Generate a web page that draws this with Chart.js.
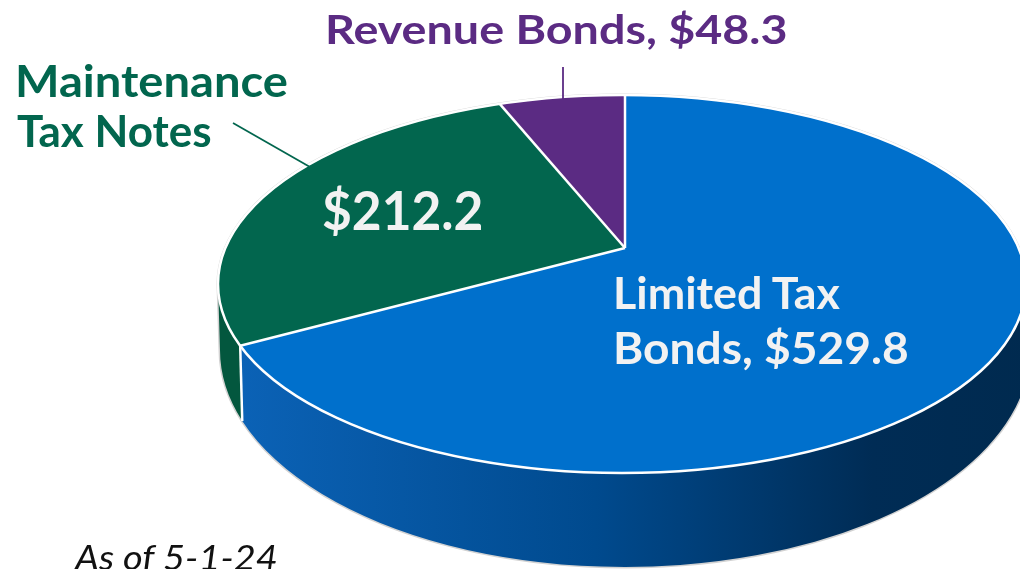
<!DOCTYPE html>
<html>
<head>
<meta charset="utf-8">
<title>Debt outstanding</title>
<script src="https://cdn.jsdelivr.net/npm/chart.js@4.4.1/dist/chart.umd.min.js"></script>
<style>
  html, body { margin: 0; padding: 0; background: #fff; }
  #wrap { position: relative; width: 1020px; height: 569px; overflow: hidden; }
  #chart { position: absolute; left: 0; top: 0; }
  .lbl {
    position: absolute;
    white-space: nowrap;
    font-family: Lato, "DejaVu Sans", sans-serif;
    transform-origin: 0 0;
  }
</style>
</head>
<body>
<div id="wrap">
  <canvas id="chart" width="1020" height="569"></canvas>
</div>
<script>
// Amounts in $ millions, as of 5-1-24
const categories = ["Limited Tax Bonds", "Maintenance Tax Notes", "Revenue Bonds"];
const amounts = [529.8, 212.2, 48.3];
const money = amounts.map((v) => "$" + v.toFixed(1));

const topColors = ["#0070cc", "#02664e", "#5b2b83"];
const sideColors = [null, "#03573e", "#47206a"]; // blue side gets a gradient

// label text, split the way the slide wraps it
const labelLines = [
  ["Limited Tax", "Bonds, " + money[0]],
  ["Maintenance", "Tax Notes"],
  [categories[2] + ", " + money[2]],
];
const asOfText = "As of 5-1-24";

// Perspective fake: the top face is the TOP ellipse, but the slices meet at
// APEX (behind its centre). The library's pie is stretched by PIE around
// APEX so it overfills the face, then clipped to it.
const TOP = { cx: 622, cy: 284, rx: 404, ry: 189 };
const BOTTOM = { cx: 625, cy: 350, rx: 405, ry: 217 };
const APEX = { x: 625, y: 248 };
const PIE = { rx: 540, ry: 251 };

function sideFill(ctx, i) {
  if (sideColors[i]) return sideColors[i];
  const g = ctx.createLinearGradient(240, 0, 1030, 0);
  g.addColorStop(0, "#0b62b6");
  g.addColorStop(0.45, "#004a8e");
  g.addColorStop(0.8, "#002c55");
  g.addColorStop(1, "#002a4f");
  return g;
}

function onTop(t) {
  return [TOP.cx + TOP.rx * Math.cos(t), TOP.cy + TOP.ry * Math.sin(t)];
}
function onBottom(t) {
  return [BOTTOM.cx + BOTTOM.rx * Math.cos(t), BOTTOM.cy + BOTTOM.ry * Math.sin(t)];
}

// where a slice edge (library angle) leaves the top face, as a TOP ellipse angle
function rimAngle(a) {
  const dx = PIE.rx * Math.cos(a), dy = PIE.ry * Math.sin(a);
  const u0 = (APEX.x - TOP.cx) / TOP.rx, v0 = (APEX.y - TOP.cy) / TOP.ry;
  const du = dx / TOP.rx, dv = dy / TOP.ry;
  const qa = du * du + dv * dv, qb = 2 * (u0 * du + v0 * dv), qc = u0 * u0 + v0 * v0 - 1;
  const s = (-qb + Math.sqrt(qb * qb - 4 * qa * qc)) / (2 * qa);
  return Math.atan2(v0 + s * dv, u0 + s * du);
}

function topPath(ctx) {
  ctx.beginPath();
  ctx.ellipse(TOP.cx, TOP.cy, TOP.rx, TOP.ry, 0, 0, 2 * Math.PI);
}

const pie3d = {
  id: "pie3d",
  beforeDatasetsDraw(chart) {
    const ctx = chart.ctx;
    const arcs = chart.getDatasetMeta(0).data;
    ctx.save();
    // faint grey edge around the whole disc
    ctx.beginPath();
    ctx.ellipse(TOP.cx, TOP.cy, TOP.rx, TOP.ry, 0, Math.PI, 2 * Math.PI);
    ctx.ellipse(BOTTOM.cx, BOTTOM.cy, BOTTOM.rx, BOTTOM.ry, 0, 0, Math.PI);
    ctx.closePath();
    ctx.strokeStyle = "#d2d2d2";
    ctx.lineWidth = 3;
    ctx.stroke();

    arcs.forEach((arc, i) => {
      const t0 = rimAngle(arc.startAngle);
      let t1 = rimAngle(arc.endAngle);
      while (t1 <= t0) t1 += 2 * Math.PI;
      for (const k of [-2 * Math.PI, 0, 2 * Math.PI]) {
        const lo = Math.max(t0, k);
        const hi = Math.min(t1, k + Math.PI);
        if (lo >= hi) continue;
        ctx.beginPath();
        ctx.ellipse(TOP.cx, TOP.cy, TOP.rx, TOP.ry, 0, lo, hi);
        ctx.ellipse(BOTTOM.cx, BOTTOM.cy, BOTTOM.rx, BOTTOM.ry, 0, hi, lo, true);
        ctx.closePath();
        ctx.fillStyle = sideFill(ctx, i);
        ctx.fill();
      }
    });

    // white edge where two slices meet on the visible side
    ctx.strokeStyle = "#ffffff";
    ctx.lineWidth = 2.5;
    arcs.forEach((arc) => {
      const t = rimAngle(arc.endAngle);
      if (Math.sin(t) > 0.05) {
        const [x1, y1] = onTop(t);
        const [x2, y2] = onBottom(t);
        ctx.beginPath();
        ctx.moveTo(x1, y1);
        ctx.lineTo(x2, y2);
        ctx.stroke();
      }
    });
    ctx.restore();
  },
  beforeDatasetDraw(chart) {
    const arc = chart.getDatasetMeta(0).data[0];
    const r = arc.outerRadius;
    const ctx = chart.ctx;
    ctx.save();
    topPath(ctx);
    ctx.clip();
    ctx.translate(APEX.x, APEX.y);
    ctx.scale(PIE.rx / r, PIE.ry / r);
    ctx.translate(-arc.x, -arc.y);
  },
  afterDatasetDraw(chart) {
    chart.ctx.restore();
  },
  afterDatasetsDraw(chart) {
    const ctx = chart.ctx;
    const arcs = chart.getDatasetMeta(0).data;
    ctx.save();
    ctx.strokeStyle = "#ffffff";
    ctx.lineWidth = 2.5;
    arcs.forEach((arc) => {
      const [x, y] = onTop(rimAngle(arc.startAngle));
      ctx.beginPath();
      ctx.moveTo(APEX.x, APEX.y);
      ctx.lineTo(x, y);
      ctx.stroke();
    });
    topPath(ctx);
    ctx.stroke();

    // leader lines for the outside labels
    ctx.lineWidth = 1.8;
    ctx.strokeStyle = topColors[1];
    ctx.beginPath();
    ctx.moveTo(233, 123);
    ctx.lineTo(310, 167);
    ctx.stroke();
    ctx.strokeStyle = topColors[2];
    ctx.beginPath();
    ctx.moveTo(563, 67);
    ctx.lineTo(563, 99);
    ctx.stroke();
    ctx.restore();
  },
};

new Chart(document.getElementById("chart"), {
  type: "pie",
  data: {
    labels: categories,
    datasets: [
      {
        data: amounts,
        backgroundColor: topColors,
        borderWidth: 0,
        clip: false,
      },
    ],
  },
  options: {
    responsive: false,
    animation: false,
    rotation: 0,
    layout: { padding: 0 },
    plugins: {
      legend: { display: false },
      tooltip: { enabled: false },
    },
  },
  plugins: [pie3d],
});

// text placed by baseline; width stretched to the slide's font
const LABELS = [
  { text: labelLines[2][0], color: topColors[2], size: 40, x: 325, base: 44, w: 463 },
  { text: labelLines[1][0], color: topColors[1], size: 44, x: 15, base: 97, w: 273 },
  { text: labelLines[1][1], color: topColors[1], size: 44, x: 17, base: 147, w: 195 },
  { text: money[1], color: "#f2f2f2", size: 54, x: 322, base: 231, w: 161 },
  { text: labelLines[0][0], color: "#f2f2f2", size: 43, x: 613, base: 309, w: 227 },
  { text: labelLines[0][1], color: "#f2f2f2", size: 43, x: 613, base: 364, w: 296 },
  { text: asOfText, color: "#111111", size: 35, x: 75, base: 570, w: 203, italic: true },
];

const wrap = document.getElementById("wrap");
LABELS.forEach((l) => {
  const el = document.createElement("div");
  el.className = "lbl";
  el.textContent = l.text;
  el.style.color = l.color;
  el.style.fontSize = l.size + "px";
  el.style.lineHeight = l.size + "px";
  el.style.fontWeight = l.italic ? "400" : "700";
  el.style.fontStyle = l.italic ? "italic" : "normal";
  el.style.left = l.x + "px";
  el.style.top = l.base - 0.887 * l.size + "px";
  wrap.appendChild(el);
  el.style.transform = "scaleX(" + l.w / el.offsetWidth + ")";
});
</script>
</body>
</html>
